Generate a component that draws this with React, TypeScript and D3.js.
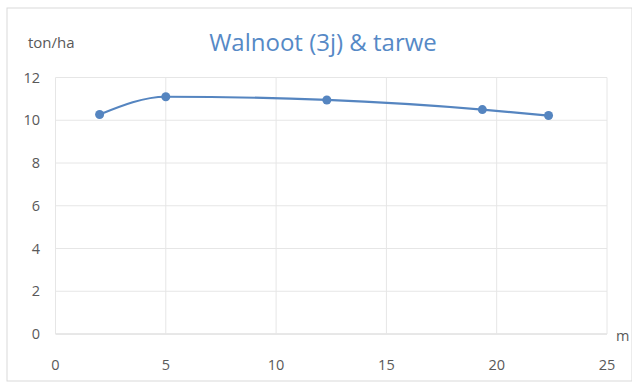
import React from "react";
import * as d3 from "d3";

const distances = [2, 5, 12.3, 19.35, 22.35];
const yields = [10.27, 11.1, 10.95, 10.5, 10.22];
const xTicks = [0, 5, 10, 15, 20, 25];
const yTicks = [0, 2, 4, 6, 8, 10, 12];
const title = "Walnoot (3j) & tarwe";
const yUnit = "ton/ha";
const xUnit = "m";

const W = 632;
const H = 383;
const FONT = "'Open Sans', 'Noto Sans', sans-serif";
const LINE = "#5585c0";
const TEXT = "#595959";

export default function App() {
  const x = d3.scaleLinear().domain([0, 25]).range([55.5, 607]);
  const y = d3.scaleLinear().domain([0, 12]).range([334, 77.5]);
  const pts = distances.map((d, i) => [d, yields[i]] as [number, number]);
  const line = d3
    .line<[number, number]>()
    .x((d) => x(d[0]))
    .y((d) => y(d[1]))
    .curve(d3.curveMonotoneX);

  return (
    <svg
      width={W}
      height={H}
      style={{ position: "absolute", left: 0, top: 0, background: "#fff" }}
    >
      <rect x={7} y={8} width={W - 7} height={H - 10} fill="#fff" stroke="#d9d9d9" strokeWidth={1} />
      {yTicks.map((t) => (
        <line key={"gy" + t} x1={x(0)} x2={x(25)} y1={y(t)} y2={y(t)} stroke={t === 0 ? "#d0d0d0" : "#e6e6e6"} strokeWidth={1} />
      ))}
      {xTicks.map((t) => (
        <line key={"gx" + t} x1={x(t)} x2={x(t)} y1={y(0)} y2={y(12)} stroke="#e6e6e6" strokeWidth={1} />
      ))}
      {yTicks.map((t) => (
        <text key={"ty" + t} x={40} y={y(t) + 5} textAnchor="end" fontFamily={FONT} fontSize={14.5} fill={TEXT}>
          {t}
        </text>
      ))}
      {xTicks.map((t) => (
        <text key={"tx" + t} x={x(t)} y={370} textAnchor="middle" fontFamily={FONT} fontSize={14.5} fill={TEXT}>
          {t}
        </text>
      ))}
      <text x={616} y={341} fontFamily={FONT} fontSize={14.5} fill={TEXT}>
        {xUnit}
      </text>
      <text x={28} y={48} fontFamily={FONT} fontSize={15} fill={TEXT}>
        {yUnit}
      </text>
      <text x={323} y={51} textAnchor="middle" fontFamily={FONT} fontSize={24} fill="#5689c6">
        {title}
      </text>
      <path d={line(pts) || ""} fill="none" stroke={LINE} strokeWidth={2.2} />
      {pts.map((p, i) => (
        <circle key={"p" + i} cx={x(p[0])} cy={y(p[1])} r={4.5} fill={LINE} />
      ))}
    </svg>
  );
}
